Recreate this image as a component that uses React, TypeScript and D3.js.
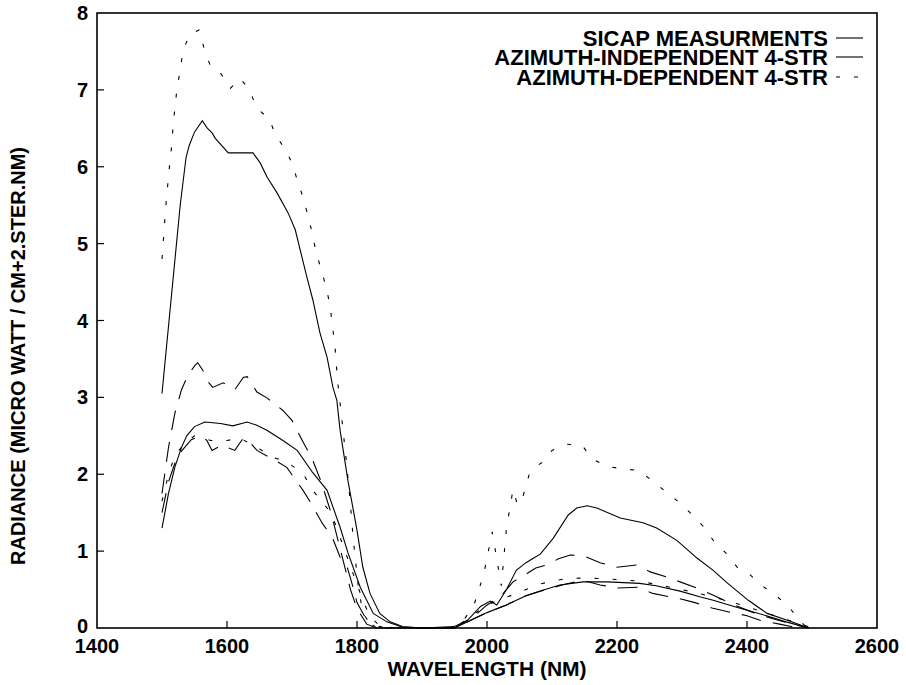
import React from "react";
import * as d3 from "d3";

type P = [number, number];

const xTicks = [1400, 1600, 1800, 2000, 2200, 2400, 2600];
const yTicks = [0, 1, 2, 3, 4, 5, 6, 7, 8];
const legendLabels = ["SICAP MEASURMENTS", "AZIMUTH-INDEPENDENT 4-STR", "AZIMUTH-DEPENDENT 4-STR"];

const sicapHigh: P[] = [
  [1500, 3.05], [1528, 5.5], [1537, 6.12], [1542, 6.28], [1550, 6.45], [1562, 6.6], [1569, 6.51],
  [1577, 6.44], [1582, 6.37], [1602, 6.18], [1640, 6.18], [1651, 6.05], [1662, 5.86], [1677, 5.66],
  [1694, 5.4], [1705, 5.18], [1723, 4.56], [1732, 4.27], [1743, 3.84], [1754, 3.52], [1763, 3.13],
  [1769, 2.96], [1774, 2.57], [1786, 1.92], [1800, 1.27], [1809, 0.79], [1820, 0.45], [1835, 0.19],
  [1851, 0.08], [1870, 0.02], [1900, 0], [1950, 0.02], [1970, 0.1], [1990, 0.28], [2005, 0.35],
  [2015, 0.3], [2030, 0.5], [2045, 0.75], [2060, 0.85], [2070, 0.9], [2082, 0.96], [2102, 1.17],
  [2125, 1.47], [2138, 1.56], [2154, 1.59], [2169, 1.56], [2205, 1.43], [2240, 1.37], [2261, 1.3],
  [2292, 1.14], [2323, 0.91], [2348, 0.75], [2369, 0.59], [2402, 0.36], [2431, 0.19], [2462, 0.1],
  [2492, 0.01],
];

const azDepHigh: P[] = [
  [1500, 4.8], [1506, 5.5], [1509, 5.78], [1512, 6.05], [1515, 6.28], [1517, 6.53], [1520, 6.78],
  [1523, 7.01], [1528, 7.26], [1532, 7.49], [1542, 7.72], [1557, 7.78], [1566, 7.5], [1575, 7.3],
  [1590, 7.22], [1605, 7.02], [1620, 7.15], [1635, 7.0], [1645, 6.77], [1665, 6.62], [1675, 6.41],
  [1690, 6.22], [1700, 6.05], [1708, 5.83], [1717, 5.6], [1725, 5.35], [1731, 5.14], [1737, 4.89],
  [1745, 4.66], [1753, 4.42], [1759, 4.17], [1762, 3.94], [1766, 3.68], [1768, 3.45], [1770, 3.22],
  [1773, 3.0], [1783, 2.22], [1789, 1.7], [1794, 1.18], [1802, 0.53], [1809, 0.2], [1820, 0.05],
  [1840, 0.01], [1900, 0], [1940, 0], [1960, 0.05], [1980, 0.3], [1995, 0.7], [2008, 1.25],
  [2015, 0.9], [2022, 0.55], [2030, 1.3], [2040, 1.8], [2047, 1.6], [2055, 1.7], [2065, 2.0],
  [2075, 2.1], [2086, 2.16], [2100, 2.31], [2123, 2.39], [2146, 2.38], [2162, 2.2], [2185, 2.1],
  [2209, 2.07], [2232, 2.05], [2254, 1.92], [2274, 1.78], [2295, 1.64], [2315, 1.48], [2334, 1.31],
  [2349, 1.13], [2368, 0.97], [2385, 0.79], [2405, 0.69], [2423, 0.55], [2440, 0.45], [2462, 0.3],
  [2478, 0.13], [2492, 0],
];

const azIndepHigh: P[] = [
  [1500, 1.75], [1510, 2.35], [1520, 2.8], [1530, 3.1], [1540, 3.29], [1551, 3.42], [1555, 3.45],
  [1563, 3.35], [1571, 3.2], [1578, 3.13], [1594, 3.19], [1612, 3.1], [1625, 3.26], [1631, 3.27],
  [1646, 3.07], [1662, 2.99], [1686, 2.83], [1700, 2.7], [1717, 2.42], [1731, 2.2], [1745, 1.9],
  [1760, 1.5], [1775, 1.0], [1790, 0.5], [1800, 0.25], [1815, 0.05], [1830, 0], [1950, 0],
  [1980, 0.15], [2000, 0.3], [2020, 0.4], [2040, 0.6], [2060, 0.7], [2075, 0.78], [2092, 0.82],
  [2110, 0.9], [2128, 0.95], [2148, 0.94], [2174, 0.85], [2200, 0.79], [2231, 0.82], [2251, 0.73],
  [2278, 0.66], [2297, 0.6], [2323, 0.52], [2350, 0.42], [2380, 0.3], [2410, 0.2], [2440, 0.12],
  [2470, 0.05], [2495, 0],
];

const sicapLow: P[] = [
  [1500, 1.3], [1510, 1.75], [1520, 2.1], [1530, 2.35], [1538, 2.5], [1550, 2.62], [1566, 2.68],
  [1590, 2.66], [1609, 2.63], [1631, 2.68], [1645, 2.64], [1662, 2.57], [1686, 2.44], [1708, 2.31],
  [1732, 2.02], [1754, 1.79], [1774, 1.31], [1786, 0.98], [1805, 0.53], [1825, 0.19], [1846, 0.08],
  [1870, 0.01], [1900, 0], [1950, 0], [1975, 0.1], [2000, 0.2], [2030, 0.3], [2060, 0.42],
  [2082, 0.48], [2112, 0.56], [2148, 0.6], [2185, 0.6], [2235, 0.58], [2260, 0.55], [2297, 0.48],
  [2330, 0.4], [2348, 0.36], [2380, 0.28], [2400, 0.23], [2430, 0.16], [2460, 0.08], [2495, 0],
];

const azDepLow: P[] = [
  [1500, 1.65], [1510, 2.0], [1520, 2.25], [1535, 2.4], [1550, 2.5], [1560, 2.48], [1575, 2.44],
  [1600, 2.44], [1620, 2.47], [1646, 2.35], [1671, 2.22], [1692, 2.16], [1717, 2.01], [1732, 1.79],
  [1748, 1.62], [1760, 1.5], [1774, 1.18], [1790, 0.8], [1809, 0.36], [1820, 0.15], [1835, 0.03],
  [1860, 0], [1950, 0], [1975, 0.15], [2000, 0.3], [2030, 0.4], [2060, 0.5], [2085, 0.58],
  [2120, 0.64], [2148, 0.65], [2185, 0.64], [2235, 0.61], [2270, 0.55], [2300, 0.5], [2340, 0.42],
  [2380, 0.33], [2420, 0.22], [2450, 0.14], [2480, 0.06], [2500, 0],
];

const azIndepLow: P[] = [
  [1500, 1.5], [1510, 1.9], [1520, 2.15], [1530, 2.3], [1545, 2.45], [1560, 2.5], [1569, 2.44],
  [1577, 2.31], [1592, 2.38], [1612, 2.31], [1625, 2.47], [1635, 2.42], [1646, 2.31], [1674, 2.18],
  [1692, 2.09], [1717, 1.79], [1731, 1.6], [1746, 1.37], [1762, 1.18], [1774, 0.92], [1785, 0.79],
  [1794, 0.53], [1800, 0.33], [1815, 0.1], [1830, 0], [1950, 0], [1975, 0.1], [2000, 0.2],
  [2030, 0.3], [2060, 0.42], [2090, 0.5], [2120, 0.57], [2148, 0.62], [2174, 0.56], [2202, 0.52],
  [2232, 0.53], [2255, 0.45], [2285, 0.4], [2297, 0.38], [2320, 0.33], [2346, 0.26], [2377, 0.2],
  [2400, 0.16], [2420, 0.1], [2450, 0.05], [2480, 0],
];

const W = 906;
const H = 685;
const L = 97, R = 877, T = 13, B = 628;
const FONT = "'Liberation Sans', Arial, Helvetica, sans-serif";
const DASH_SOLID = "none";
const DASH_LONG = "20,12";
const DASH_SHORT = "4,14";

export default function App() {
  const x = d3.scaleLinear().domain([1400, 2600]).range([L, R]);
  const y = d3.scaleLinear().domain([0, 8]).range([B, T]);
  const line = d3.line<P>().x((d) => x(d[0])).y((d) => y(d[1]));

  const series = [
    { data: sicapHigh, dash: DASH_SOLID },
    { data: sicapLow, dash: DASH_SOLID },
    { data: azIndepHigh, dash: DASH_LONG },
    { data: azIndepLow, dash: DASH_LONG },
    { data: azDepHigh, dash: DASH_SHORT },
    { data: azDepLow, dash: DASH_SHORT },
  ];
  const legendDash = [DASH_SOLID, DASH_SOLID, DASH_SHORT];
  const legendY = [38, 57, 77];

  return (
    <svg width={W} height={H} style={{ position: "absolute", left: 0, top: 0, background: "#fff" }}
      fontFamily={FONT} fontWeight="bold">
      <rect x={0} y={0} width={W} height={H} fill="#fff" />
      {series.map((s, i) => (
        <path key={i} d={line(s.data) || ""} fill="none" stroke="#000" strokeWidth={1.1}
          strokeDasharray={s.dash} />
      ))}
      <rect x={L} y={T} width={R - L} height={B - T} fill="none" stroke="#000" strokeWidth={1.6} />
      {yTicks.map((v) => (
        <g key={"y" + v}>
          {v > 0 && v < 8 && <line x1={L} x2={L + 7} y1={y(v)} y2={y(v)} stroke="#000" strokeWidth={1.2} />}
          <text x={88} y={y(v) - (v === 0 ? 2 : 0)} dy="0.35em" textAnchor="end" fontSize={20}>{v}</text>
        </g>
      ))}
      {xTicks.map((v) => (
        <g key={"x" + v}>
          {v > 1400 && v < 2600 && <line x1={x(v)} x2={x(v)} y1={B} y2={B - 7} stroke="#000" strokeWidth={1.2} />}
          <text x={x(v)} y={653} textAnchor="middle" fontSize={20}>{v}</text>
        </g>
      ))}
      <text x={(L + R) / 2} y={676} textAnchor="middle" fontSize={21}>WAVELENGTH (NM)</text>
      <text transform="translate(25,356) rotate(-90)" textAnchor="middle" fontSize={20}>
        RADIANCE (MICRO WATT / CM+2.STER.NM)
      </text>
      {legendLabels.map((lab, i) => (
        <g key={lab}>
          <text x={828} y={legendY[i]} dy="0.36em" textAnchor="end" fontSize={22}>{lab}</text>
          <line x1={836} x2={863} y1={legendY[i]} y2={legendY[i]} stroke="#000" strokeWidth={1.1}
            strokeDasharray={legendDash[i]} />
        </g>
      ))}
    </svg>
  );
}
